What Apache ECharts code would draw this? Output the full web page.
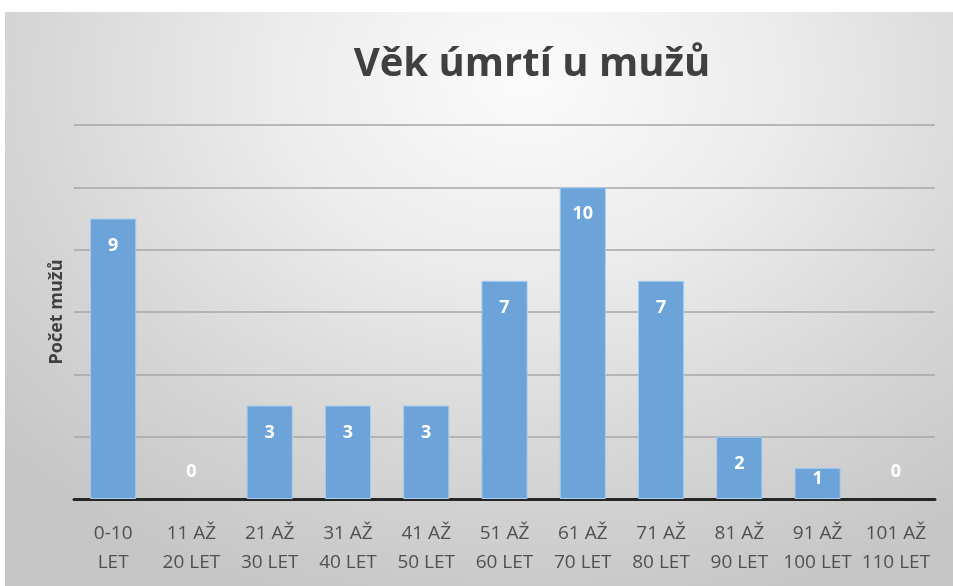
<!DOCTYPE html>
<html><head><meta charset="utf-8">
<script src="https://cdn.jsdelivr.net/npm/echarts@6/dist/echarts.min.js"></script>
<style>
html,body{margin:0;padding:0;background:#fff;}
#wrap{position:relative;width:953px;height:586px;background:#fff;}
#bg{position:absolute;left:5px;top:12px;width:948px;height:574px;
background:radial-gradient(ellipse 75% 95% at 55% 12%, #fbfbfb 0%, #ececec 35%, #d6d6d6 70%, #c6c6c6 100%);}
#chart{position:absolute;left:0;top:0;width:953px;height:586px;}
</style></head>
<body><div id="wrap"><div id="bg"></div><div id="chart"></div></div>
<script>
const title = 'Věk úmrtí u mužů';
const yName = 'Počet mužů';
const categories = ['0-10\nLET','11 AŽ\n20 LET','21 AŽ\n30 LET','31 AŽ\n40 LET','41 AŽ\n50 LET','51 AŽ\n60 LET','61 AŽ\n70 LET','71 AŽ\n80 LET','81 AŽ\n90 LET','91 AŽ\n100 LET','101 AŽ\n110 LET'];
const values = [9,0,3,3,3,7,10,7,2,1,0];
const yMin = 0, yMax = 12, yInterval = 2;

const chart = echarts.init(document.getElementById('chart'), null, {renderer:'canvas'});
const font = '"Open Sans", "Noto Sans", sans-serif';
function item(v){
  if (v === 0) return {value: v, itemStyle: {borderWidth: 0}, label: {position: 'top', distance: 18}};
  if (v === 1) return {value: v, label: {distance: 2}};
  return v;
}
chart.setOption({
  backgroundColor: 'transparent',
  animation: false,
  title: {
    text: title, left: 527, top: 40, textAlign: 'center',
    textStyle: {fontFamily: font, fontSize: 40, fontWeight: 'bold', color: '#404040'}
  },
  grid: {left: 74, right: 18, top: 125, bottom: 87},
  xAxis: {
    type: 'category', data: categories,
    axisLine: {lineStyle: {color: '#262626', width: 3}},
    axisTick: {show: false},
    axisLabel: {fontFamily: font, fontSize: 19, color: '#505050', lineHeight: 29, margin: 20, interval: 0}
  },
  yAxis: {
    type: 'value', min: yMin, max: yMax, interval: yInterval,
    name: yName, nameLocation: 'middle', nameGap: 8, nameRotate: 90,
    nameTextStyle: {fontFamily: font, fontSize: 18, fontWeight: 'bold', color: '#404040'},
    axisLabel: {show: false}, axisLine: {show: false}, axisTick: {show: false},
    splitLine: {lineStyle: {color: '#a6a6a6', width: 1.5}}
  },
  series: [{
    type: 'bar', barWidth: '59%',
    data: values.map(item),
    itemStyle: {color: '#6ca3d8', borderColor: '#a9cbee', borderWidth: 1},
    label: {show: true, position: 'insideTop', distance: 18, fontFamily: font, fontSize: 18, fontWeight: 'bold', color: '#ffffff'}
  }]
});
</script></body></html>
